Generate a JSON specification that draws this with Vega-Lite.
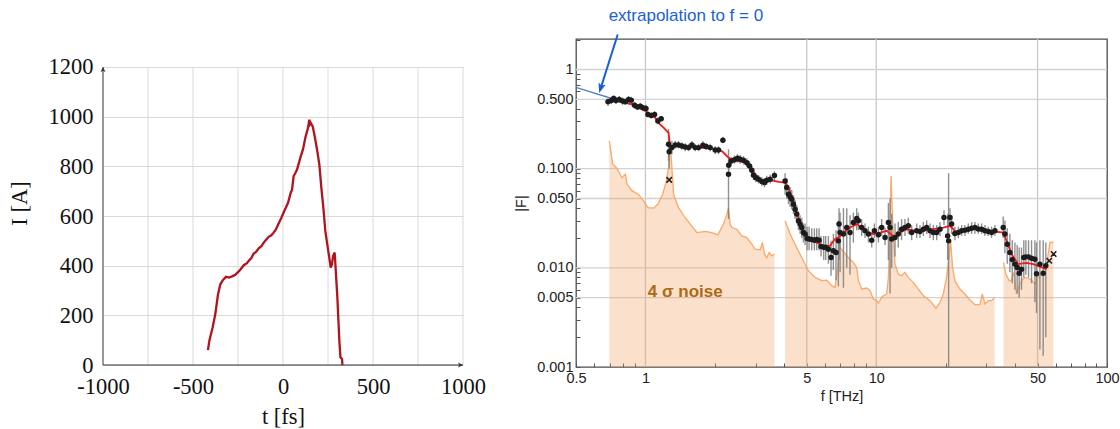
{
  "$schema": "https://vega.github.io/schema/vega-lite/v6.json",
  "padding": {"left": 8, "top": 6, "right": 2, "bottom": 1},
  "background": "white",
  "bounds": "flush",
  "spacing": 113,
  "config": {"view": {"stroke": null}},
  "datasets": {
    "current": [
      {"t": -417, "I": 60}, {"t": -409, "I": 98}, {"t": -400, "I": 125}, {"t": -391, "I": 151},
      {"t": -376, "I": 205}, {"t": -361, "I": 285}, {"t": -348, "I": 325}, {"t": -335, "I": 341},
      {"t": -317, "I": 355}, {"t": -300, "I": 352}, {"t": -283, "I": 357}, {"t": -265, "I": 363},
      {"t": -243, "I": 379}, {"t": -218, "I": 402}, {"t": -200, "I": 410}, {"t": -191, "I": 419},
      {"t": -175, "I": 432}, {"t": -163, "I": 449}, {"t": -150, "I": 455}, {"t": -135, "I": 470},
      {"t": -120, "I": 478}, {"t": -107, "I": 493}, {"t": -95, "I": 503}, {"t": -80, "I": 516},
      {"t": -65, "I": 522}, {"t": -52, "I": 533}, {"t": -40, "I": 545}, {"t": -28, "I": 564},
      {"t": -9, "I": 593}, {"t": 9, "I": 623}, {"t": 20, "I": 640}, {"t": 28, "I": 653},
      {"t": 43, "I": 694}, {"t": 50, "I": 705}, {"t": 59, "I": 760}, {"t": 70, "I": 775},
      {"t": 78, "I": 787}, {"t": 96, "I": 834}, {"t": 111, "I": 868}, {"t": 124, "I": 915},
      {"t": 139, "I": 955}, {"t": 146, "I": 988}, {"t": 150, "I": 970}, {"t": 154, "I": 975},
      {"t": 165, "I": 961}, {"t": 176, "I": 921}, {"t": 189, "I": 868}, {"t": 202, "I": 807},
      {"t": 213, "I": 714}, {"t": 226, "I": 620}, {"t": 235, "I": 540}, {"t": 246, "I": 486},
      {"t": 257, "I": 433}, {"t": 265, "I": 392}, {"t": 272, "I": 406}, {"t": 278, "I": 439},
      {"t": 287, "I": 453}, {"t": 291, "I": 406}, {"t": 302, "I": 272}, {"t": 313, "I": 98},
      {"t": 319, "I": 31}, {"t": 328, "I": 24}, {"t": 330, "I": 0}
    ],
    "gridT": [{"t": -750}, {"t": -500}, {"t": -250}, {"t": 0}, {"t": 250}, {"t": 500}, {"t": 750}, {"t": 1000}],
    "gx": [{"f": 1}, {"f": 5}, {"f": 10}, {"f": 50}],
    "gy": [{"v": 0.005}, {"v": 0.01}, {"v": 0.05}, {"v": 0.1}, {"v": 0.5}, {"v": 1}],
    "extrap": [{"f": 0.5, "v": 0.66}, {"f": 1.0, "v": 0.4}],
    "noise": [
      {"seg": 1, "f": 0.697, "n": 0.19}, {"seg": 1, "f": 0.704, "n": 0.163}, {"seg": 1, "f": 0.721, "n": 0.111},
      {"seg": 1, "f": 0.752, "n": 0.101}, {"seg": 1, "f": 0.791, "n": 0.081}, {"seg": 1, "f": 0.818, "n": 0.088},
      {"seg": 1, "f": 0.832, "n": 0.07}, {"seg": 1, "f": 0.874, "n": 0.06}, {"seg": 1, "f": 0.934, "n": 0.055},
      {"seg": 1, "f": 0.982, "n": 0.047}, {"seg": 1, "f": 1.025, "n": 0.0405}, {"seg": 1, "f": 1.085, "n": 0.04},
      {"seg": 1, "f": 1.132, "n": 0.044}, {"seg": 1, "f": 1.186, "n": 0.055}, {"seg": 1, "f": 1.231, "n": 0.075},
      {"seg": 1, "f": 1.259, "n": 0.102}, {"seg": 1, "f": 1.28, "n": 0.18}, {"seg": 1, "f": 1.302, "n": 0.102},
      {"seg": 1, "f": 1.324, "n": 0.055}, {"seg": 1, "f": 1.391, "n": 0.0405}, {"seg": 1, "f": 1.487, "n": 0.032},
      {"seg": 1, "f": 1.563, "n": 0.0276}, {"seg": 1, "f": 1.67, "n": 0.0227}, {"seg": 1, "f": 1.815, "n": 0.0233},
      {"seg": 1, "f": 1.939, "n": 0.0227}, {"seg": 1, "f": 2.059, "n": 0.0215}, {"seg": 1, "f": 2.179, "n": 0.0276},
      {"seg": 1, "f": 2.252, "n": 0.0348}, {"seg": 1, "f": 2.29, "n": 0.0405}, {"seg": 1, "f": 2.328, "n": 0.0276},
      {"seg": 1, "f": 2.367, "n": 0.0255}, {"seg": 1, "f": 2.488, "n": 0.0245}, {"seg": 1, "f": 2.616, "n": 0.021},
      {"seg": 1, "f": 2.75, "n": 0.0202}, {"seg": 1, "f": 2.89, "n": 0.0173}, {"seg": 1, "f": 2.987, "n": 0.0154},
      {"seg": 1, "f": 3.14, "n": 0.0152}, {"seg": 1, "f": 3.215, "n": 0.018}, {"seg": 1, "f": 3.279, "n": 0.0138},
      {"seg": 1, "f": 3.356, "n": 0.0127}, {"seg": 1, "f": 3.435, "n": 0.0143}, {"seg": 1, "f": 3.527, "n": 0.0132},
      {"seg": 1, "f": 3.622, "n": 0.0138},
      {"seg": 2, "f": 4.028, "n": 0.0298}, {"seg": 2, "f": 4.234, "n": 0.0219}, {"seg": 2, "f": 4.45, "n": 0.0173},
      {"seg": 2, "f": 4.756, "n": 0.0127}, {"seg": 2, "f": 5.084, "n": 0.00935}, {"seg": 2, "f": 5.434, "n": 0.00801},
      {"seg": 2, "f": 5.806, "n": 0.00742}, {"seg": 2, "f": 6.103, "n": 0.00752}, {"seg": 2, "f": 6.414, "n": 0.00661},
      {"seg": 2, "f": 6.632, "n": 0.00635}, {"seg": 2, "f": 6.811, "n": 0.0101}, {"seg": 2, "f": 6.925, "n": 0.0202},
      {"seg": 2, "f": 6.97, "n": 0.016}, {"seg": 2, "f": 7.57, "n": 0.0127}, {"seg": 2, "f": 7.96, "n": 0.0113},
      {"seg": 2, "f": 8.23, "n": 0.0101}, {"seg": 2, "f": 8.37, "n": 0.00742}, {"seg": 2, "f": 8.65, "n": 0.00612},
      {"seg": 2, "f": 9.09, "n": 0.00626}, {"seg": 2, "f": 9.4, "n": 0.00588}, {"seg": 2, "f": 9.72, "n": 0.00485},
      {"seg": 2, "f": 10.05, "n": 0.00467}, {"seg": 2, "f": 10.22, "n": 0.00439}, {"seg": 2, "f": 10.56, "n": 0.00512},
      {"seg": 2, "f": 11.1, "n": 0.00545}, {"seg": 2, "f": 11.29, "n": 0.00801}, {"seg": 2, "f": 11.48, "n": 0.0298},
      {"seg": 2, "f": 11.59, "n": 0.0845}, {"seg": 2, "f": 11.78, "n": 0.0298}, {"seg": 2, "f": 12.06, "n": 0.0109},
      {"seg": 2, "f": 12.46, "n": 0.00866}, {"seg": 2, "f": 12.88, "n": 0.00833}, {"seg": 2, "f": 13.32, "n": 0.009},
      {"seg": 2, "f": 13.77, "n": 0.00801}, {"seg": 2, "f": 14.47, "n": 0.00714}, {"seg": 2, "f": 15.21, "n": 0.00612},
      {"seg": 2, "f": 16.0, "n": 0.00524}, {"seg": 2, "f": 17.1, "n": 0.00467}, {"seg": 2, "f": 18.15, "n": 0.00391},
      {"seg": 2, "f": 18.89, "n": 0.00449}, {"seg": 2, "f": 19.52, "n": 0.00545}, {"seg": 2, "f": 20.18, "n": 0.00801},
      {"seg": 2, "f": 20.72, "n": 0.01375}, {"seg": 2, "f": 21.0, "n": 0.01873}, {"seg": 2, "f": 21.42, "n": 0.0101},
      {"seg": 2, "f": 21.92, "n": 0.00742}, {"seg": 2, "f": 23.05, "n": 0.00612}, {"seg": 2, "f": 24.23, "n": 0.00545},
      {"seg": 2, "f": 25.47, "n": 0.00474}, {"seg": 2, "f": 26.77, "n": 0.00425}, {"seg": 2, "f": 28.14, "n": 0.00425},
      {"seg": 2, "f": 28.8, "n": 0.00545}, {"seg": 2, "f": 29.58, "n": 0.00432}, {"seg": 2, "f": 30.57, "n": 0.00467},
      {"seg": 2, "f": 31.6, "n": 0.00467}, {"seg": 2, "f": 32.6, "n": 0.00504},
      {"seg": 3, "f": 35.6, "n": 0.01134}, {"seg": 3, "f": 36.46, "n": 0.00866}, {"seg": 3, "f": 37.69, "n": 0.00742},
      {"seg": 3, "f": 38.57, "n": 0.00752}, {"seg": 3, "f": 39.48, "n": 0.009}, {"seg": 3, "f": 40.54, "n": 0.00545},
      {"seg": 3, "f": 41.63, "n": 0.00661}, {"seg": 3, "f": 42.61, "n": 0.00742}, {"seg": 3, "f": 44.05, "n": 0.00801},
      {"seg": 3, "f": 45.54, "n": 0.00789}, {"seg": 3, "f": 47.08, "n": 0.00752}, {"seg": 3, "f": 48.68, "n": 0.00687},
      {"seg": 3, "f": 50.33, "n": 0.00801}, {"seg": 3, "f": 51.52, "n": 0.00833}, {"seg": 3, "f": 52.91, "n": 0.00935},
      {"seg": 3, "f": 54.7, "n": 0.0105}, {"seg": 3, "f": 56.55, "n": 0.018}, {"seg": 3, "f": 58.6, "n": 0.0183}
    ],
    "fit": [
      {"f": 0.74, "v": 0.487}, {"f": 0.818, "v": 0.462}, {"f": 0.889, "v": 0.444}, {"f": 0.934, "v": 0.418},
      {"f": 0.998, "v": 0.381}, {"f": 1.049, "v": 0.352}, {"f": 1.102, "v": 0.326}, {"f": 1.148, "v": 0.284},
      {"f": 1.198, "v": 0.259}, {"f": 1.259, "v": 0.23}, {"f": 1.28, "v": 0.169}, {"f": 1.391, "v": 0.172},
      {"f": 1.537, "v": 0.1666}, {"f": 1.698, "v": 0.1628}, {"f": 1.876, "v": 0.1603}, {"f": 2.038, "v": 0.1566},
      {"f": 2.143, "v": 0.1507}, {"f": 2.252, "v": 0.1342}, {"f": 2.367, "v": 0.1214}, {"f": 2.53, "v": 0.1195},
      {"f": 2.703, "v": 0.115}, {"f": 2.842, "v": 0.104}, {"f": 2.987, "v": 0.0878}, {"f": 3.14, "v": 0.0782},
      {"f": 3.356, "v": 0.0752}, {"f": 3.527, "v": 0.0764}, {"f": 3.77, "v": 0.0735}, {"f": 4.028, "v": 0.0724},
      {"f": 4.165, "v": 0.0645}, {"f": 4.378, "v": 0.0473}, {"f": 4.601, "v": 0.0322}, {"f": 4.835, "v": 0.0236},
      {"f": 5.084, "v": 0.0202}, {"f": 5.343, "v": 0.0187}, {"f": 5.71, "v": 0.0173}, {"f": 6.0, "v": 0.0164},
      {"f": 6.31, "v": 0.0167}, {"f": 6.63, "v": 0.0195}, {"f": 6.925, "v": 0.0206}, {"f": 7.21, "v": 0.0227},
      {"f": 7.7, "v": 0.0255}, {"f": 8.23, "v": 0.0276}, {"f": 8.65, "v": 0.0255}, {"f": 9.09, "v": 0.0227},
      {"f": 9.72, "v": 0.0219}, {"f": 10.39, "v": 0.0227}, {"f": 11.1, "v": 0.0236}, {"f": 12.06, "v": 0.0202},
      {"f": 12.67, "v": 0.0227}, {"f": 13.54, "v": 0.0245}, {"f": 14.97, "v": 0.0236}, {"f": 16.54, "v": 0.024},
      {"f": 18.28, "v": 0.0249}, {"f": 19.52, "v": 0.0255}, {"f": 20.87, "v": 0.0265}, {"f": 22.3, "v": 0.0227},
      {"f": 23.84, "v": 0.024}, {"f": 26.34, "v": 0.0255}, {"f": 29.11, "v": 0.0245}, {"f": 32.16, "v": 0.0233},
      {"f": 35.54, "v": 0.0227}, {"f": 36.73, "v": 0.0187}, {"f": 38.57, "v": 0.01375}, {"f": 41.22, "v": 0.0109},
      {"f": 44.82, "v": 0.0112}, {"f": 47.88, "v": 0.0109}, {"f": 51.18, "v": 0.0103}, {"f": 54.7, "v": 0.0097}
    ],
    "pts": [
      {"f": 0.688, "v": 0.472, "lo": 0.43, "hi": 0.51}, {"f": 0.711, "v": 0.487, "lo": 0.45, "hi": 0.53},
      {"f": 0.728, "v": 0.51, "lo": 0.47, "hi": 0.55}, {"f": 0.745, "v": 0.487, "lo": 0.45, "hi": 0.53},
      {"f": 0.77, "v": 0.498, "lo": 0.46, "hi": 0.54}, {"f": 0.796, "v": 0.48, "lo": 0.44, "hi": 0.52},
      {"f": 0.818, "v": 0.472, "lo": 0.44, "hi": 0.51}, {"f": 0.845, "v": 0.498, "lo": 0.46, "hi": 0.54},
      {"f": 0.868, "v": 0.491, "lo": 0.45, "hi": 0.53}, {"f": 0.897, "v": 0.437, "lo": 0.4, "hi": 0.47},
      {"f": 0.924, "v": 0.418, "lo": 0.39, "hi": 0.45}, {"f": 0.95, "v": 0.427, "lo": 0.39, "hi": 0.46},
      {"f": 0.975, "v": 0.411, "lo": 0.38, "hi": 0.44}, {"f": 1.005, "v": 0.405, "lo": 0.37, "hi": 0.44},
      {"f": 1.025, "v": 0.352, "lo": 0.33, "hi": 0.38}, {"f": 1.06, "v": 0.344, "lo": 0.32, "hi": 0.37},
      {"f": 1.095, "v": 0.352, "lo": 0.33, "hi": 0.38}, {"f": 1.132, "v": 0.302, "lo": 0.28, "hi": 0.33},
      {"f": 1.17, "v": 0.319, "lo": 0.3, "hi": 0.34},
      {"f": 1.259, "v": 0.176, "lo": 0.12, "hi": 0.25}, {"f": 1.267, "v": 0.148, "lo": 0.1, "hi": 0.2},
      {"f": 1.302, "v": 0.163, "lo": 0.14, "hi": 0.19}, {"f": 1.346, "v": 0.173, "lo": 0.16, "hi": 0.19},
      {"f": 1.391, "v": 0.173, "lo": 0.16, "hi": 0.19}, {"f": 1.438, "v": 0.169, "lo": 0.155, "hi": 0.185},
      {"f": 1.487, "v": 0.165, "lo": 0.15, "hi": 0.18}, {"f": 1.537, "v": 0.163, "lo": 0.15, "hi": 0.178},
      {"f": 1.589, "v": 0.173, "lo": 0.16, "hi": 0.19}, {"f": 1.643, "v": 0.163, "lo": 0.15, "hi": 0.178},
      {"f": 1.698, "v": 0.163, "lo": 0.15, "hi": 0.178}, {"f": 1.774, "v": 0.172, "lo": 0.16, "hi": 0.19},
      {"f": 1.833, "v": 0.167, "lo": 0.155, "hi": 0.18}, {"f": 1.907, "v": 0.163, "lo": 0.15, "hi": 0.178},
      {"f": 2.005, "v": 0.154, "lo": 0.14, "hi": 0.168}, {"f": 2.073, "v": 0.154, "lo": 0.14, "hi": 0.168},
      {"f": 2.165, "v": 0.193, "lo": 0.18, "hi": 0.21},
      {"f": 2.29, "v": 0.0878, "lo": 0.031, "hi": 0.157}, {"f": 2.295, "v": 0.108, "lo": 0.095, "hi": 0.12},
      {"f": 2.352, "v": 0.1195, "lo": 0.108, "hi": 0.132}, {"f": 2.431, "v": 0.1233, "lo": 0.112, "hi": 0.136},
      {"f": 2.505, "v": 0.1272, "lo": 0.115, "hi": 0.14}, {"f": 2.573, "v": 0.1243, "lo": 0.112, "hi": 0.137},
      {"f": 2.659, "v": 0.1214, "lo": 0.11, "hi": 0.134}, {"f": 2.75, "v": 0.115, "lo": 0.104, "hi": 0.127},
      {"f": 2.824, "v": 0.1064, "lo": 0.096, "hi": 0.118}, {"f": 2.89, "v": 0.0963, "lo": 0.087, "hi": 0.107},
      {"f": 2.939, "v": 0.0858, "lo": 0.077, "hi": 0.095}, {"f": 3.008, "v": 0.0812, "lo": 0.073, "hi": 0.09},
      {"f": 3.089, "v": 0.0782, "lo": 0.071, "hi": 0.087}, {"f": 3.193, "v": 0.0741, "lo": 0.067, "hi": 0.082},
      {"f": 3.279, "v": 0.0724, "lo": 0.065, "hi": 0.08}, {"f": 3.356, "v": 0.0764, "lo": 0.069, "hi": 0.085},
      {"f": 3.469, "v": 0.0782, "lo": 0.071, "hi": 0.087}, {"f": 3.622, "v": 0.0851, "lo": 0.077, "hi": 0.094},
      {"f": 4.028, "v": 0.0752, "lo": 0.055, "hi": 0.09}, {"f": 4.095, "v": 0.0645, "lo": 0.05, "hi": 0.08},
      {"f": 4.165, "v": 0.0552, "lo": 0.044, "hi": 0.068}, {"f": 4.234, "v": 0.0519, "lo": 0.041, "hi": 0.065},
      {"f": 4.305, "v": 0.0492, "lo": 0.039, "hi": 0.061}, {"f": 4.378, "v": 0.0438, "lo": 0.035, "hi": 0.054},
      {"f": 4.45, "v": 0.039, "lo": 0.031, "hi": 0.048}, {"f": 4.525, "v": 0.0348, "lo": 0.028, "hi": 0.043},
      {"f": 4.601, "v": 0.0298, "lo": 0.024, "hi": 0.037}, {"f": 4.677, "v": 0.0276, "lo": 0.022, "hi": 0.034},
      {"f": 4.756, "v": 0.0255, "lo": 0.02, "hi": 0.032}, {"f": 4.835, "v": 0.0227, "lo": 0.018, "hi": 0.028},
      {"f": 4.917, "v": 0.0219, "lo": 0.017, "hi": 0.028}, {"f": 5.016, "v": 0.0198, "lo": 0.015, "hi": 0.026},
      {"f": 5.117, "v": 0.0195, "lo": 0.015, "hi": 0.026}, {"f": 5.254, "v": 0.0193, "lo": 0.015, "hi": 0.025},
      {"f": 5.396, "v": 0.019, "lo": 0.015, "hi": 0.025}, {"f": 5.523, "v": 0.0193, "lo": 0.015, "hi": 0.025},
      {"f": 5.653, "v": 0.019, "lo": 0.015, "hi": 0.025}, {"f": 5.767, "v": 0.0164, "lo": 0.013, "hi": 0.021},
      {"f": 5.922, "v": 0.0161, "lo": 0.012, "hi": 0.021}, {"f": 6.041, "v": 0.0161, "lo": 0.012, "hi": 0.021},
      {"f": 6.204, "v": 0.0154, "lo": 0.011, "hi": 0.021}, {"f": 6.37, "v": 0.0127, "lo": 0.0083, "hi": 0.0187},
      {"f": 6.52, "v": 0.0149, "lo": 0.0095, "hi": 0.022}, {"f": 6.696, "v": 0.0143, "lo": 0.0075, "hi": 0.024},
      {"f": 6.853, "v": 0.0187, "lo": 0.0065, "hi": 0.03}, {"f": 6.9, "v": 0.0276, "lo": 0.012, "hi": 0.04},
      {"f": 6.97, "v": 0.0227, "lo": 0.009, "hi": 0.036}, {"f": 7.21, "v": 0.0219, "lo": 0.0063, "hi": 0.04},
      {"f": 7.45, "v": 0.0255, "lo": 0.01, "hi": 0.04}, {"f": 7.7, "v": 0.0227, "lo": 0.0085, "hi": 0.034},
      {"f": 7.96, "v": 0.0286, "lo": 0.018, "hi": 0.036}, {"f": 8.23, "v": 0.0314, "lo": 0.024, "hi": 0.04},
      {"f": 8.37, "v": 0.0298, "lo": 0.024, "hi": 0.036}, {"f": 8.65, "v": 0.0255, "lo": 0.021, "hi": 0.031},
      {"f": 8.94, "v": 0.0236, "lo": 0.02, "hi": 0.028}, {"f": 9.25, "v": 0.0219, "lo": 0.018, "hi": 0.026},
      {"f": 9.56, "v": 0.019, "lo": 0.016, "hi": 0.023}, {"f": 9.82, "v": 0.0236, "lo": 0.02, "hi": 0.028},
      {"f": 10.22, "v": 0.0215, "lo": 0.018, "hi": 0.026}, {"f": 10.56, "v": 0.0255, "lo": 0.021, "hi": 0.031},
      {"f": 10.92, "v": 0.0202, "lo": 0.017, "hi": 0.025}, {"f": 11.29, "v": 0.0286, "lo": 0.012, "hi": 0.045},
      {"f": 11.48, "v": 0.0255, "lo": 0.0055, "hi": 0.05}, {"f": 11.67, "v": 0.0195, "lo": 0.01, "hi": 0.035},
      {"f": 12.06, "v": 0.0202, "lo": 0.013, "hi": 0.028}, {"f": 12.46, "v": 0.0219, "lo": 0.016, "hi": 0.029},
      {"f": 12.88, "v": 0.0245, "lo": 0.019, "hi": 0.031}, {"f": 13.32, "v": 0.0255, "lo": 0.021, "hi": 0.031},
      {"f": 13.77, "v": 0.0265, "lo": 0.022, "hi": 0.032}, {"f": 14.24, "v": 0.0227, "lo": 0.019, "hi": 0.027},
      {"f": 14.97, "v": 0.0236, "lo": 0.02, "hi": 0.028}, {"f": 15.47, "v": 0.0233, "lo": 0.02, "hi": 0.027},
      {"f": 16.0, "v": 0.0245, "lo": 0.021, "hi": 0.029}, {"f": 16.54, "v": 0.0255, "lo": 0.022, "hi": 0.03},
      {"f": 17.1, "v": 0.0236, "lo": 0.02, "hi": 0.028}, {"f": 17.68, "v": 0.0227, "lo": 0.019, "hi": 0.027},
      {"f": 18.28, "v": 0.0227, "lo": 0.019, "hi": 0.027}, {"f": 18.89, "v": 0.0245, "lo": 0.021, "hi": 0.029},
      {"f": 19.66, "v": 0.0322, "lo": 0.027, "hi": 0.038}, {"f": 20.39, "v": 0.021, "lo": 0.012, "hi": 0.035},
      {"f": 20.59, "v": 0.0187, "lo": 0.0009, "hi": 0.09}, {"f": 20.87, "v": 0.0322, "lo": 0.026, "hi": 0.04},
      {"f": 21.22, "v": 0.0276, "lo": 0.022, "hi": 0.034}, {"f": 21.92, "v": 0.0222, "lo": 0.019, "hi": 0.026},
      {"f": 22.68, "v": 0.0227, "lo": 0.02, "hi": 0.026}, {"f": 23.44, "v": 0.0236, "lo": 0.021, "hi": 0.027},
      {"f": 24.23, "v": 0.024, "lo": 0.021, "hi": 0.027}, {"f": 25.06, "v": 0.0245, "lo": 0.022, "hi": 0.028},
      {"f": 25.91, "v": 0.0251, "lo": 0.022, "hi": 0.029}, {"f": 26.77, "v": 0.0255, "lo": 0.022, "hi": 0.029},
      {"f": 27.68, "v": 0.0247, "lo": 0.022, "hi": 0.028}, {"f": 28.62, "v": 0.0245, "lo": 0.022, "hi": 0.028},
      {"f": 29.58, "v": 0.0236, "lo": 0.021, "hi": 0.027}, {"f": 30.57, "v": 0.0233, "lo": 0.021, "hi": 0.026},
      {"f": 31.61, "v": 0.0227, "lo": 0.02, "hi": 0.026}, {"f": 32.68, "v": 0.0236, "lo": 0.021, "hi": 0.027},
      {"f": 35.5, "v": 0.0255, "lo": 0.02, "hi": 0.033}, {"f": 36.1, "v": 0.0219, "lo": 0.014, "hi": 0.03},
      {"f": 36.95, "v": 0.0173, "lo": 0.011, "hi": 0.025}, {"f": 37.95, "v": 0.0143, "lo": 0.009, "hi": 0.022},
      {"f": 38.85, "v": 0.0121, "lo": 0.007, "hi": 0.019}, {"f": 39.9, "v": 0.0109, "lo": 0.006, "hi": 0.018},
      {"f": 40.8, "v": 0.0101, "lo": 0.0055, "hi": 0.017}, {"f": 41.63, "v": 0.0088, "lo": 0.005, "hi": 0.016},
      {"f": 42.61, "v": 0.0097, "lo": 0.006, "hi": 0.016}, {"f": 43.6, "v": 0.0127, "lo": 0.008, "hi": 0.019},
      {"f": 44.5, "v": 0.0129, "lo": 0.0085, "hi": 0.019}, {"f": 45.7, "v": 0.0129, "lo": 0.008, "hi": 0.019},
      {"f": 47.1, "v": 0.0125, "lo": 0.007, "hi": 0.019}, {"f": 48.7, "v": 0.0122, "lo": 0.0045, "hi": 0.019},
      {"f": 49.5, "v": 0.0087, "lo": 0.0035, "hi": 0.018}, {"f": 51.2, "v": 0.0109, "lo": 0.0015, "hi": 0.019},
      {"f": 52.9, "v": 0.0088, "lo": 0.0013, "hi": 0.019}, {"f": 54.3, "v": 0.0105, "lo": 0.002, "hi": 0.018}
    ],
    "xm": [{"f": 1.267, "v": 0.077}, {"f": 56.2, "v": 0.0118}, {"f": 58.7, "v": 0.0138}]
  },
  "hconcat": [
    {
      "width": 360,
      "height": 328,
      "view": {"stroke": null},
      "encoding": {
        "x": {
          "type": "quantitative",
          "scale": {"domain": [-1000, 1000], "nice": false, "zero": false},
          "axis": {
            "values": [-1000, -750, -500, -250, 0, 250, 500, 750, 1000],
            "labelExpr": "datum.value % 500 == 0 ? (datum.value < 0 ? '-' + abs(datum.value) : '' + datum.value) : ''",
            "grid": false, "domain": false, "ticks": false,
            "labelFont": "Liberation Serif", "labelFontSize": 22.5, "labelColor": "#111",
            "labelPadding": 8, "labelFlush": false, "labelOverlap": false,
            "title": "t [fs]", "titleFont": "Liberation Serif", "titleFontSize": 22.5,
            "titleFontWeight": "normal", "titleColor": "#111", "titlePadding": 8
          }
        },
        "y": {
          "type": "quantitative",
          "scale": {"domain": [-8.05, 1312.75], "nice": false, "zero": false},
          "axis": {
            "values": [0, 200, 400, 600, 800, 1000, 1200],
            "labelExpr": "'' + datum.value",
            "grid": true, "gridColor": "#d9d9d9", "gridWidth": 1,
            "domain": false, "ticks": false,
            "labelFont": "Liberation Serif", "labelFontSize": 22.5, "labelColor": "#111",
            "labelPadding": 10, "labelOverlap": false,
            "title": "I [A]", "titleFont": "Liberation Serif", "titleFontSize": 22.5,
            "titleFontWeight": "normal", "titleColor": "#111", "titlePadding": 17
          }
        }
      },
      "layer": [
        {
          "data": {"name": "gridT"},
          "mark": {"type": "rule", "color": "#d9d9d9", "strokeWidth": 1},
          "encoding": {
            "x": {"field": "t"},
            "y": {"datum": 0},
            "y2": {"datum": 1200}
          }
        },
        {
          "data": {"values": [{}]},
          "mark": {"type": "rule", "color": "#333333", "strokeWidth": 1},
          "encoding": {
            "x": {"datum": -1000},
            "y": {"datum": 0},
            "y2": {"datum": 1200}
          }
        },
        {
          "data": {"values": [{}]},
          "mark": {"type": "rule", "color": "#333333", "strokeWidth": 1},
          "encoding": {
            "x": {"datum": -1000},
            "x2": {"datum": 1000},
            "y": {"datum": 0}
          }
        },
        {
          "data": {"values": [{}]},
          "mark": {"type": "point", "shape": "M0,0L-0.5,1L0,0.75L0.5,1Z", "filled": true, "color": "#333333", "opacity": 1, "size": 100},
          "encoding": {
            "x": {"datum": -1000},
            "y": {"datum": 1200}
          }
        },
        {
          "data": {"values": [{}]},
          "mark": {"type": "point", "shape": "M0,0L-1,-0.5L-0.75,0L-1,0.5Z", "filled": true, "color": "#333333", "opacity": 1, "size": 100},
          "encoding": {
            "x": {"datum": 1000},
            "y": {"datum": 0}
          }
        },
        {
          "data": {"name": "current"},
          "mark": {"type": "line", "color": "#b0141c", "strokeWidth": 2.3},
          "encoding": {
            "x": {"field": "t"},
            "y": {"field": "I"}
          }
        }
      ]
    },
    {
      "width": 531,
      "height": 328,
      "view": {"stroke": "#4d4d4d", "strokeWidth": 1.3},
      "encoding": {
        "x": {
          "type": "quantitative",
          "scale": {"type": "log", "domain": [0.5, 100], "nice": false},
          "axis": {
            "values": [0.5, 0.6, 0.7, 0.8, 0.9, 1, 2, 3, 4, 5, 6, 7, 8, 9, 10, 20, 30, 40, 50, 60, 70, 80, 90, 100],
            "labelExpr": "indexof([0.5, 1, 5, 10, 50, 100], datum.value) >= 0 ? '' + datum.value : ''",
            "grid": false, "domain": false,
            "ticks": true, "tickColor": "#555555", "tickWidth": 1, "tickSize": -4,
            "labelFont": "Liberation Sans", "labelFontSize": 14.5, "labelColor": "#222222",
            "labelPadding": 8, "labelFlush": false, "labelOverlap": false,
            "title": "f [THz]", "titleFont": "Liberation Sans", "titleFontSize": 14.5,
            "titleFontWeight": "normal", "titleColor": "#222222", "titlePadding": 5
          }
        },
        "y": {
          "type": "quantitative",
          "scale": {"type": "log", "domain": [0.001, 2.03], "nice": false},
          "axis": {
            "values": [0.001, 0.002, 0.003, 0.004, 0.005, 0.006, 0.007, 0.008, 0.009, 0.01, 0.02, 0.03, 0.04, 0.05, 0.06, 0.07, 0.08, 0.09, 0.1, 0.2, 0.3, 0.4, 0.5, 0.6, 0.7, 0.8, 0.9, 1, 2],
            "labelExpr": "datum.value == 1 ? '1' : (indexof([0.5, 0.1, 0.05, 0.01, 0.005, 0.001], datum.value) >= 0 ? format(datum.value, '.3f') : '')",
            "grid": false, "domain": false,
            "ticks": true, "tickColor": "#555555", "tickWidth": 1, "tickSize": -4,
            "labelFont": "Liberation Sans", "labelFontSize": 14.5, "labelColor": "#222222",
            "labelPadding": 7, "labelOverlap": false, "labelFlush": false,
            "title": "|F|", "titleFont": "Liberation Sans", "titleFontSize": 14.5,
            "titleFontWeight": "normal", "titleColor": "#222222", "titlePadding": 8
          }
        }
      },
      "layer": [
        {
          "data": {"name": "gx"},
          "mark": {"type": "rule", "color": "#c8c8c8", "strokeWidth": 1.3},
          "encoding": {"x": {"field": "f"}}
        },
        {
          "data": {"name": "gy"},
          "mark": {"type": "rule", "color": "#d2d2d2", "strokeWidth": 1.3},
          "encoding": {"y": {"field": "v"}}
        },
        {
          "data": {"name": "noise"},
          "mark": {"type": "area", "color": "#f4a060", "opacity": 0.32},
          "encoding": {
            "x": {"field": "f"},
            "y": {"field": "n"},
            "y2": {"datum": 0.001},
            "detail": {"field": "seg", "type": "nominal"}
          }
        },
        {
          "data": {"name": "noise"},
          "mark": {"type": "line", "color": "#f7a25c", "strokeWidth": 1.3, "opacity": 0.9},
          "encoding": {
            "x": {"field": "f"},
            "y": {"field": "n"},
            "detail": {"field": "seg", "type": "nominal"}
          }
        },
        {
          "data": {"name": "extrap"},
          "mark": {"type": "line", "color": "#5580c0", "strokeWidth": 1.5},
          "encoding": {"x": {"field": "f"}, "y": {"field": "v"}}
        },
        {
          "data": {"name": "pts"},
          "mark": {"type": "rule", "color": "#7c7c7c", "strokeWidth": 1.4, "opacity": 0.85, "clip": true},
          "encoding": {"x": {"field": "f"}, "y": {"field": "lo"}, "y2": {"field": "hi"}}
        },
        {
          "data": {"name": "fit"},
          "mark": {"type": "line", "color": "#ee1b1b", "strokeWidth": 1.8},
          "encoding": {"x": {"field": "f"}, "y": {"field": "v"}}
        },
        {
          "data": {"name": "pts"},
          "mark": {"type": "point", "shape": "circle", "filled": true, "color": "#1c1c1c", "opacity": 1, "size": 30},
          "encoding": {"x": {"field": "f"}, "y": {"field": "v"}}
        },
        {
          "data": {"name": "xm"},
          "mark": {"type": "point", "shape": "M-1,-1L1,1M-1,1L1,-1", "filled": false, "color": "#222222", "strokeWidth": 1.6, "opacity": 1, "size": 30},
          "encoding": {"x": {"field": "f"}, "y": {"field": "v"}}
        },
        {
          "data": {"values": [{}]},
          "mark": {"type": "rule", "color": "#1a5fd8", "strokeWidth": 2},
          "encoding": {
            "x": {"datum": 0.758},
            "y": {"datum": 2.25},
            "x2": {"datum": 0.636},
            "y2": {"datum": 0.62}
          }
        },
        {
          "data": {"values": [{}]},
          "mark": {"type": "point", "shape": "M0,0L-0.38,1L0,0.8L0.38,1Z", "filled": true, "color": "#1a5fd8", "opacity": 1, "size": 380, "angle": 197.5},
          "encoding": {"x": {"datum": 0.63}, "y": {"datum": 0.581}}
        },
        {
          "data": {"values": [{}]},
          "mark": {"type": "text", "text": "extrapolation to f = 0", "font": "Liberation Sans", "fontSize": 17, "color": "#1a5fd8", "align": "center", "baseline": "middle"},
          "encoding": {"x": {"datum": 1.497}, "y": {"datum": 3.44}}
        },
        {
          "data": {"values": [{}]},
          "mark": {"type": "text", "text": "4 σ noise", "font": "Liberation Sans", "fontSize": 17, "fontWeight": "bold", "color": "#ad6a12", "align": "center", "baseline": "middle"},
          "encoding": {"x": {"datum": 1.487}, "y": {"datum": 0.00566}}
        }
      ]
    }
  ]
}
